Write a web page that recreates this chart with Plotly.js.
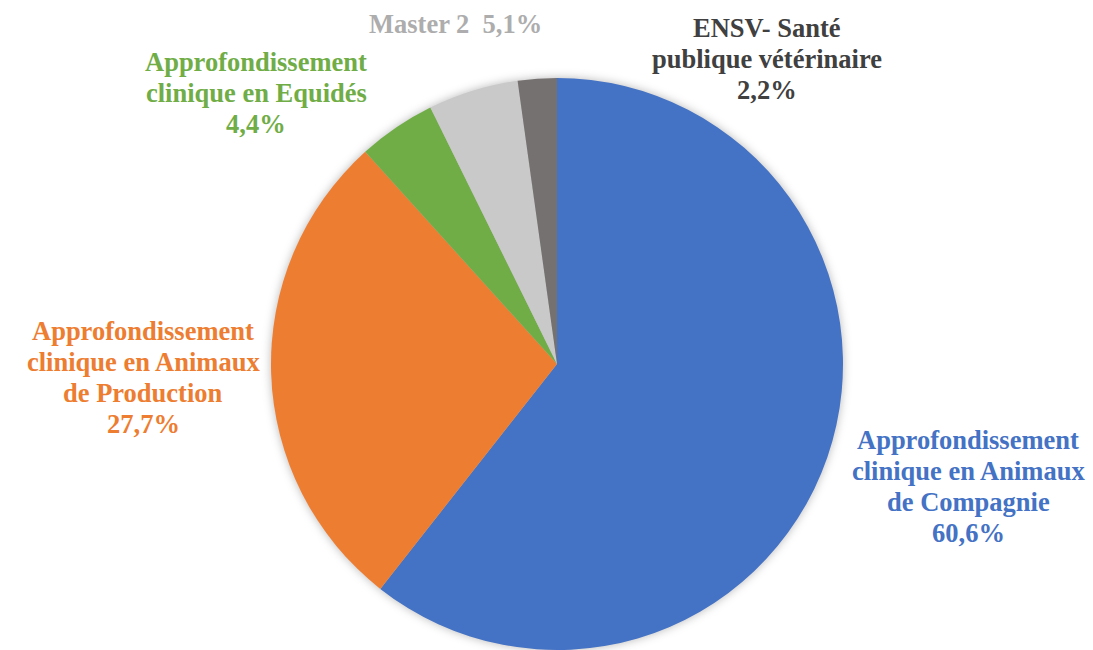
<!DOCTYPE html>
<html>
<head>
<meta charset="utf-8">
<script src="https://cdn.plot.ly/plotly-3.0.1.min.js"></script>
<style>
html,body{margin:0;padding:0;background:#fff;}
#chart{width:1093px;height:650px;}
.pielayer{filter:drop-shadow(0 0 5px rgba(0,0,0,0.28));}
</style>
</head>
<body>
<div id="chart"></div>
<script>
// Data
const categories = [
  "Approfondissement clinique en Animaux de Compagnie",
  "Approfondissement clinique en Animaux de Production",
  "Approfondissement clinique en Equidés",
  "Master 2",
  "ENSV- Santé publique vétérinaire"
];
const values = [60.6, 27.7, 4.4, 5.1, 2.2];
const labelLines = [
  ["Approfondissement", "clinique en Animaux", "de Compagnie"],
  ["Approfondissement", "clinique en Animaux", "de Production"],
  ["Approfondissement", "clinique en Equidés"],
  ["Master 2"],
  ["ENSV- Santé", "publique vétérinaire"]
];
const sliceColors = ["#4472C4", "#ED7D31", "#70AD47", "#C9C9C9", "#767171"];
const textColors = ["#4472C4", "#ED7D31", "#70AD47", "#ADADAD", "#404040"];

// Label layout (pixel positions of first line centre)
const W = 1093, H = 650;
const labelPos = [
  {x: 968, y: 440, inline: false},
  {x: 143, y: 331, inline: false},
  {x: 256, y: 62, inline: false},
  {x: 455, y: 24, inline: true},
  {x: 767, y: 28, inline: false}
];
const lineH = 31;
const fontSize = 26.5;

function pct(v){ return v.toFixed(1).replace(".", ",") + "%"; }

const annotations = [];
labelLines.forEach((lines, i) => {
  const p = labelPos[i];
  let all;
  if (p.inline) {
    all = [lines[lines.length-1] + "  " + pct(values[i])];
  } else {
    all = lines.concat([pct(values[i])]);
  }
  all.forEach((t, k) => {
    annotations.push({
      xref: "paper", yref: "paper",
      x: p.x / W, y: 1 - (p.y + k * lineH) / H,
      xanchor: "center", yanchor: "middle",
      text: "<b>" + t.replace(/  /g, " &nbsp;") + "</b>", showarrow: false,
      font: {family: "Liberation Serif", size: fontSize, color: textColors[i]}
    });
  });
});

const cx = 557, cy = 364, R = 286;
const trace = {
  type: "pie",
  labels: categories,
  values: values,
  sort: false,
  direction: "clockwise",
  rotation: 0,
  textinfo: "none",
  hoverinfo: "label+percent",
  marker: {colors: sliceColors, line: {width: 0}},
  domain: {x: [(cx - R) / W, (cx + R) / W], y: [(H - cy - R) / H, (H - cy + R) / H]},
  showlegend: false
};

const layout = {
  width: W, height: H,
  margin: {l: 0, r: 0, t: 0, b: 0},
  paper_bgcolor: "#ffffff",
  showlegend: false,
  annotations: annotations
};

Plotly.newPlot("chart", [trace], layout, {displayModeBar: false, staticPlot: true});
</script>
</body>
</html>
